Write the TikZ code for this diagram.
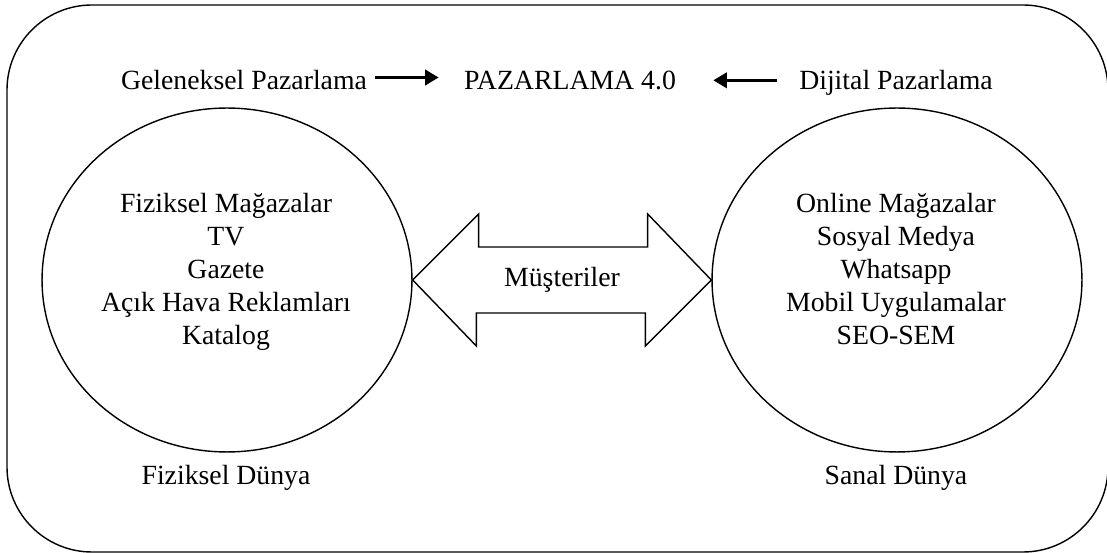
\documentclass[tikz,border=0pt]{standalone}
\usepackage{fontspec}
\setmainfont{Liberation Serif}
\usetikzlibrary{arrows.meta,calc,shapes.geometric}
\tikzset{metin/.style={font=\fontsize{15.8}{18}\selectfont, inner sep=0pt},
         daire/.style={draw, ellipse, line width=0.8pt,
         minimum width=7.4cm, minimum height=6.88cm, inner sep=0pt},
         kalinok/.style={line width=2pt, -{Triangle[length=0.27cm,width=0.3cm]}},
         cerceve/.style={draw, line width=0.8pt, rounded corners=1.7cm}}

\begin{document}
\begin{tikzpicture}[x=0.02cm, y=-0.02cm]
  \useasboundingbox (0,0) rectangle (1107,553);
  \draw[cerceve] (7,5) rectangle (1108,552);

  \node[metin, anchor=base] (geleneksel) at (244,90) {Geleneksel Pazarlama};
  \node[metin, anchor=base] (pazarlama) at (570,90) {PAZARLAMA 4.0};
  \node[metin, anchor=base] (dijital) at (896,90) {Dijital Pazarlama};

  \draw[kalinok, shorten <=0.16cm, shorten >=0.5cm] ([yshift=0.06cm]geleneksel.east) -- ([yshift=0.06cm]geleneksel.east -| pazarlama.west);
  \draw[kalinok, shorten <=0.44cm, shorten >=0.74cm] ([yshift=0.06cm]dijital.west) -- ([yshift=0.06cm]dijital.west -| pazarlama.east);

  \node[daire] (fizik) at (227,280) {};
  \node[daire] (sanal) at (897,280) {};

  \foreach \t [count=\i] in {Fiziksel Mağazalar, TV, Gazete, Açık Hava Reklamları, Katalog}
    \node[metin, anchor=base] (sol\i) at (226,180+33*\i) {\t};
  \foreach \t [count=\i] in {Online Mağazalar, Sosyal Medya, Whatsapp, Mobil Uygulamalar, SEO-SEM}
    \node[metin, anchor=base] (sag\i) at (896,180+33*\i) {\t};

  % iki yonlu ok
  \draw[line width=0.8pt] (fizik.east) -- ++(66,-66) -- ++(0,33) -- ++(169,0) -- ++(0,-33)
    -- (sanal.west) -- ++(-66,66) -- ++(0,-33) -- ++(-169,0) -- ++(0,33) -- cycle;
  \node[metin] (musteri) at ($(fizik.east)!0.5!(sanal.west)$) {Müşteriler};

  \node[metin, anchor=base] (fdunya) at (226,485) {Fiziksel Dünya};
  \node[metin, anchor=base] (sdunya) at (896,485) {Sanal Dünya};
\end{tikzpicture}
\end{document}
